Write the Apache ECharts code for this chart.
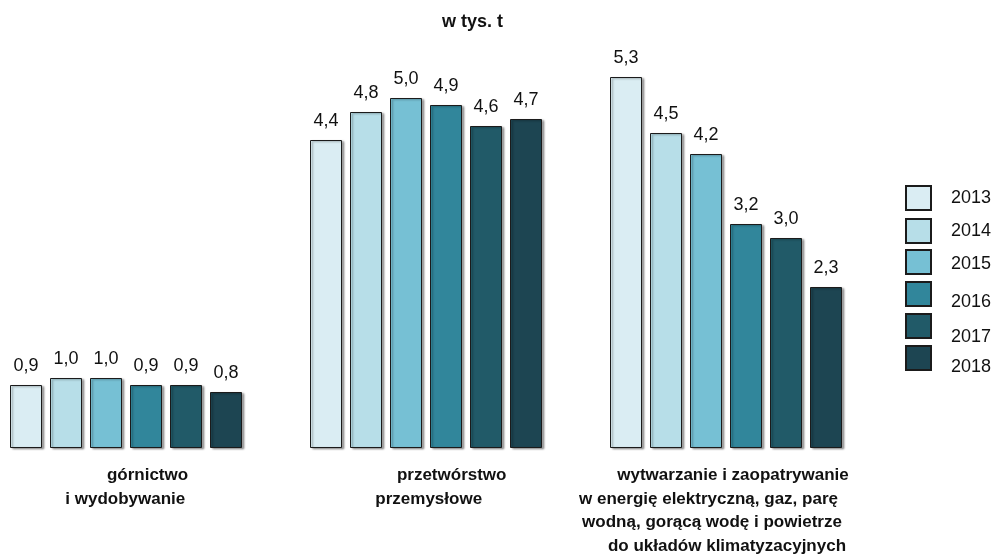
<!DOCTYPE html>
<html>
<head>
<meta charset="utf-8">
<style>
  html, body { margin: 0; padding: 0; background: #ffffff; }
  #chart { width: 994px; height: 555px; }
</style>
<script src="https://cdn.jsdelivr.net/npm/echarts@6/dist/echarts.min.js"></script>
</head>
<body>
<div id="chart"></div>
<script>
// Sections (category axis), one line per row of the label
const categories = [
  'górnictwo\ni wydobywanie',
  'przetwórstwo\nprzemysłowe',
  'wytwarzanie i zaopatrywanie\nw energię elektryczną, gaz, parę\nwodną, gorącą wodę i powietrze\ndo układów klimatyzacyjnych'
];

// Years shown in the legend, one bar series each
const years = ['2013', '2014', '2015', '2016', '2017', '2018'];

// Values in thousand tonnes, per year, in category order
const v2013 = [0.9, 4.4, 5.3];
const v2014 = [1.0, 4.8, 4.5];
const v2015 = [1.0, 5.0, 4.2];
const v2016 = [0.9, 4.9, 3.2];
const v2017 = [0.9, 4.6, 3.0];
const v2018 = [0.8, 4.7, 2.3];
const seriesValues = [v2013, v2014, v2015, v2016, v2017, v2018];

const unitTitle = 'w tys. t';

// Styling
const palette = ['#daedf3', '#b7dee8', '#76c0d4', '#31869b', '#215a68', '#1d4552'];
const fontFamily = '"Liberation Sans", Arial, Helvetica, sans-serif';

// Horizontal nudges of the individual label lines (px, + = right)
const lineShift = [
  [21.5, -0.7],
  [25.7, 2.7],
  [7, -17.5, -14, 1]
];

const rich = {};
lineShift.forEach((shifts, gi) => {
  shifts.forEach((s, li) => {
    rich['g' + gi + 'l' + li] = {
      fontFamily: fontFamily,
      fontSize: 17,
      fontWeight: 'bold',
      color: '#111111',
      lineHeight: 23.5,
      padding: s >= 0 ? [0, 0, 0, 2 * s] : [0, -2 * s, 0, 0]
    };
  });
});

// Legend: one block per year so that squares and texts can be placed freely
const legendTops = [185, 218, 249, 281, 313, 345];
const legendTextDrop = [0, 0, 5, 17, 22, 19];

const legends = years.map((y, i) => ({
  data: [y],
  orient: 'vertical',
  left: 905,
  top: legendTops[i],
  padding: 0,
  itemWidth: 25,
  itemHeight: 24,
  icon: 'rect',
  selectedMode: false,
  formatter: name => '{t|' + name + '}',
  textStyle: {
    rich: {
      t: {
        fontFamily: fontFamily,
        fontSize: 18,
        color: '#111111',
        padding: [legendTextDrop[i], 0, 0, 15]
      }
    }
  }
}));

const chart = echarts.init(document.getElementById('chart'), null, { renderer: 'canvas' });

chart.setOption({
  animation: false,
  backgroundColor: '#ffffff',
  title: {
    text: unitTitle,
    left: 442,
    top: 13,
    padding: 0,
    textStyle: {
      fontFamily: fontFamily,
      fontSize: 18,
      fontWeight: 'bold',
      color: '#111111'
    }
  },
  legend: legends,
  grid: {
    left: -24,
    width: 900,
    top: 28,
    bottom: 107,
    containLabel: false,
    outerBoundsMode: 'none'
  },
  xAxis: {
    type: 'category',
    data: categories,
    axisLine: { show: false },
    axisTick: { show: false },
    axisLabel: {
      interval: 0,
      margin: 16,
      align: 'center',
      formatter: (value, index) =>
        value.split('\n').map((t, j) => '{g' + index + 'l' + j + '|' + t + '}').join('\n'),
      rich: rich
    }
  },
  yAxis: {
    type: 'value',
    min: 0,
    max: 6,
    show: false,
    splitLine: { show: false }
  },
  series: years.map((y, i) => ({
    name: y,
    type: 'bar',
    data: seriesValues[i],
    barWidth: 32,
    barGap: '25%',
    itemStyle: {
      color: palette[i],
      borderColor: '#1b1b1b',
      borderWidth: 1,
      shadowColor: 'rgba(0,0,0,0.35)',
      shadowBlur: 2,
      shadowOffsetX: 2,
      shadowOffsetY: 1
    },
    label: {
      show: true,
      position: 'top',
      distance: 10,
      fontFamily: fontFamily,
      fontSize: 18,
      color: '#111111',
      formatter: p => p.value.toFixed(1).replace('.', ',')
    }
  }))
});
</script>
</body>
</html>
